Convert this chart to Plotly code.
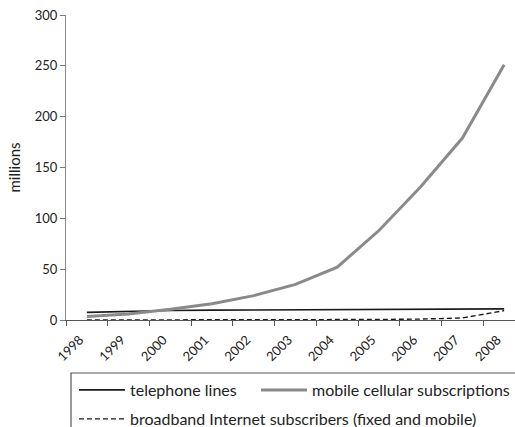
import plotly.graph_objects as go

years = ["1998", "1999", "2000", "2001", "2002", "2003", "2004", "2005", "2006", "2007", "2008"]
telephone_lines = [7.5, 8.5, 9.3, 9.7, 9.9, 10.1, 10.2, 10.3, 10.5, 10.8, 10.9]
mobile_cellular = [3.5, 6, 10.5, 16, 24, 35, 52, 88, 131, 179, 251]
broadband = [0, 0, 0, 0, 0.1, 0.2, 0.3, 0.5, 0.9, 2, 9.2]

FONT = "Lato"
W, H = 515, 427
L, T, B = 66, 15, 107
PW, PH = W - L, H - T - B


def px_x(x):
    return (x - L) / PW


def px_y(y):
    return (H - B - y) / PH


fig = go.Figure()
fig.add_trace(go.Scatter(x=years, y=telephone_lines, mode="lines", name="telephone lines",
                         line=dict(color="#1a1a1a", width=1.6), legend="legend"))
fig.add_trace(go.Scatter(x=years, y=mobile_cellular, mode="lines", name="mobile cellular subscriptions",
                         line=dict(color="#8a8a8a", width=3), legend="legend2"))
fig.add_trace(go.Scatter(x=years, y=broadband, mode="lines",
                         name="broadband Internet subscribers (fixed and mobile)",
                         line=dict(color="#1a1a1a", width=1.4, dash="5px,3px"), legend="legend3"))

# legend frame runs off the right and bottom edges like the original
fig.add_shape(type="rect", xref="paper", yref="paper",
              x0=px_x(71), x1=1.2, y0=px_y(373), y1=-0.6,
              line=dict(color="#555555", width=1.2))

legend_style = dict(orientation="h", yanchor="middle", xref="container", yref="container",
                    itemwidth=46, tracegroupgap=0,
                    font=dict(family=FONT, size=16, color="#222222"),
                    bgcolor="rgba(0,0,0,0)")

fig.update_layout(
    width=W, height=H,
    margin=dict(l=L, r=0, t=T, b=B),
    paper_bgcolor="white", plot_bgcolor="white",
    font=dict(family=FONT, size=13, color="#222222"),
    showlegend=True,
    legend=dict(x=74 / W, y=1 - 390 / H, xanchor="left", **legend_style),
    legend2=dict(x=1, y=1 - 390 / H, xanchor="right", **legend_style),
    legend3=dict(x=74 / W, y=1 - 419 / H, xanchor="left", **legend_style),
    xaxis=dict(type="category", range=[-0.5, 10.26], tickson="boundaries",
               ticks="outside", ticklen=5, tickcolor="#555555",
               showline=True, linecolor="#555555", linewidth=1.2,
               showgrid=False, tickangle=-45, tickfont=dict(size=13),
               ticklabelshift=-7, ticklabelstandoff=6, automargin=False),
    yaxis=dict(range=[0, 300], tickvals=[0, 50, 100, 150, 200, 250, 300],
               ticks="outside", ticklen=5, tickcolor="#777777",
               showline=True, linecolor="#888888", linewidth=1.2,
               showgrid=False, zeroline=False, tickfont=dict(size=13),
               automargin=False,
               title=dict(text="millions", font=dict(size=15), standoff=10)),
)

fig.write_html("out.html", config={"displayModeBar": False},
               post_script="document.body.style.margin='0';")
